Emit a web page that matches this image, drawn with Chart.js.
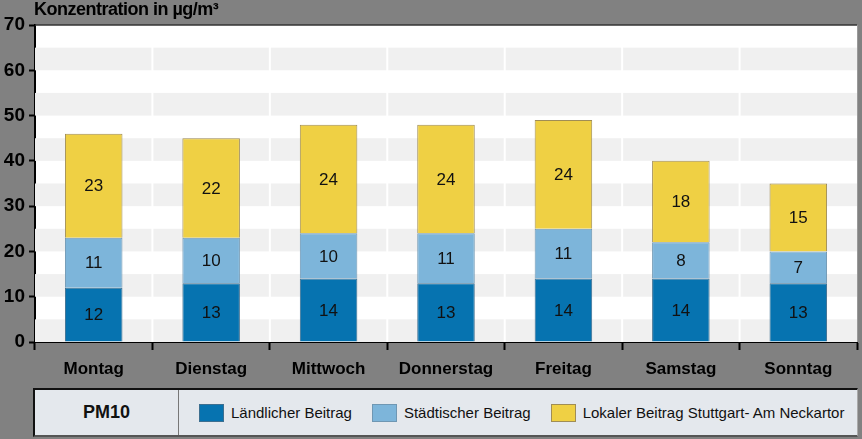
<!DOCTYPE html>
<html>
<head>
   <meta charset="UTF-8">
   <title>PM10 Wochengang</title>
   <script src="https://cdn.jsdelivr.net/npm/chart.js@4.4.1/dist/chart.umd.min.js"></script>
   <style>
      body { margin: 0; background: #818181; font-family: "Liberation Sans", Arial, sans-serif; }
      #wrap { position: relative; width: 862px; height: 439px; overflow: hidden; }
      #yTitle { position: absolute; left: 34px; top: -1px; font-weight: bold; font-size: 18px; letter-spacing: -0.5px; color: #000; line-height: 20px; }
      #chartBox { position: absolute; left: 0; top: 0; width: 862px; height: 385px; }
      #legend { position: absolute; left: 33px; top: 388px; width: 822px; height: 45px; background: #e4e8ed;
         border-top: 2px solid #111; border-left: 2px solid #111; border-bottom: 2px solid #555; border-right: 1px solid #aaa;
         display: flex; align-items: center; font-size: 15px; color: #111; }
      #legend .name { width: 143px; height: 100%; border-right: 1px solid #777; display: flex; align-items: center; justify-content: center; font-weight: bold; font-size: 18px; }
      #legend .item { display: flex; align-items: center; margin-left: 20px; }
      #legend .sw { width: 23px; height: 16px; margin-right: 7px; border: 1px solid #888; }
   </style>
</head>
<body>
   <div id="wrap">
      <div id="chartBox"><canvas id="chart"></canvas></div>
      <div id="yTitle">Konzentration in µg/m³</div>
      <div id="legend"></div>
   </div>

   <script>
      // Wochentage und Beiträge
      const days = ["Montag", "Dienstag", "Mittwoch", "Donnerstag", "Freitag", "Samstag", "Sonntag"];
      const laendlich = [12, 13, 14, 13, 14, 14, 13];
      const staedtisch = [11, 10, 10, 11, 11, 8, 7];
      const lokal = [23, 22, 24, 24, 24, 18, 15];
      const yTicks = [0, 10, 20, 30, 40, 50, 60, 70];

      const seriesNames = ["Ländlicher Beitrag", "Städtischer Beitrag", "Lokaler Beitrag Stuttgart- Am Neckartor"];
      const colors = ["#0673b0", "#7db5da", "#efd044"];
      const borders = ["#3d6f90", "#6f97b3", "#a08d55"];

      // legend in HTML (box with PM10 cell)
      const legend = document.getElementById("legend");
      legend.innerHTML = '<div class="name">PM10</div>' + seriesNames.map((n, i) =>
         '<div class="item"><span class="sw" style="background:' + colors[i] + ';border-color:' + borders[i] + '"></span>' + n + '</div>'
      ).join("");

      // alternating horizontal bands every 5 units + outline of the plot
      const bandsPlugin = {
         id: "bands",
         beforeDatasetsDraw(chart) {
            const { ctx, chartArea: a, scales: { x, y } } = chart;
            ctx.save();
            for (let v = 0; v < 70; v += 10) {
               const top = y.getPixelForValue(v + 5);
               const bottom = y.getPixelForValue(v);
               ctx.fillStyle = "#f0f0f0";
               ctx.fillRect(a.left, top, a.right - a.left, bottom - top);
            }
            // white vertical separators between categories
            ctx.strokeStyle = "#ffffff";
            ctx.lineWidth = 2;
            for (let i = 1; i < days.length; i++) {
               const px = (x.getPixelForValue(i - 1) + x.getPixelForValue(i)) / 2;
               ctx.beginPath();
               ctx.moveTo(px, a.top);
               ctx.lineTo(px, a.bottom);
               ctx.stroke();
            }
            ctx.restore();
         },
         beforeDraw(chart) {
            const { ctx, chartArea: a } = chart;
            ctx.save();
            ctx.fillStyle = "#ffffff";
            ctx.fillRect(a.left, a.top, a.right - a.left, a.bottom - a.top);
            ctx.restore();
         },
         afterDraw(chart) {
            const { ctx, chartArea: a } = chart;
            ctx.save();
            ctx.strokeStyle = "#333";
            ctx.lineWidth = 1.5;
            ctx.beginPath();
            ctx.moveTo(a.left, a.top);
            ctx.lineTo(a.right, a.top);
            ctx.stroke();
            ctx.strokeStyle = "#9a9a9a";
            ctx.lineWidth = 1;
            ctx.beginPath();
            ctx.moveTo(a.right + 0.5, a.top);
            ctx.lineTo(a.right + 0.5, a.bottom);
            ctx.stroke();
            ctx.restore();
         }
      };

      // values in the middle of each segment
      const valueLabels = {
         id: "valueLabels",
         afterDatasetsDraw(chart) {
            const { ctx } = chart;
            ctx.save();
            ctx.font = "17px 'Liberation Sans', Arial, sans-serif";
            ctx.fillStyle = "#111";
            ctx.textAlign = "center";
            ctx.textBaseline = "middle";
            chart.data.datasets.forEach((ds, di) => {
               chart.getDatasetMeta(di).data.forEach((bar, i) => {
                  ctx.fillText(ds.data[i], bar.x, (bar.y + bar.base) / 2 + 1);
               });
            });
            ctx.restore();
         }
      };

      const datasets = [laendlich, staedtisch, lokal].map((d, i) => ({
         label: seriesNames[i],
         data: d,
         backgroundColor: colors[i],
         borderColor: borders[i],
         borderWidth: 1,
         categoryPercentage: 1,
         barPercentage: 0.49
      }));

      new Chart(document.getElementById("chart"), {
         type: "bar",
         data: { labels: days, datasets },
         options: {
            responsive: true,
            maintainAspectRatio: false,
            animation: false,
            layout: { padding: { top: 25, right: 5, left: 0, bottom: 0 } },
            plugins: { legend: { display: false }, tooltip: { enabled: false } },
            scales: {
               x: {
                  stacked: true,
                  offset: true,
                  grid: { display: true, drawOnChartArea: false, offset: true, tickColor: "#000", tickLength: 8, tickWidth: 2 },
                  border: { color: "#000", width: 2 },
                  ticks: { color: "#000", padding: 9, font: { family: "'Liberation Sans', Arial", size: 17, weight: "bold" } },
                  afterFit(scale) { scale.height = 43; }
               },
               y: {
                  stacked: true,
                  min: 0,
                  max: 70,
                  afterBuildTicks(scale) { scale.ticks = yTicks.map(v => ({ value: v })); },
                  grid: { drawOnChartArea: false, tickColor: "#000", tickLength: 6, tickWidth: 2 },
                  border: { color: "#000", width: 2 },
                  ticks: { color: "#000", padding: 4, font: { family: "'Liberation Sans', Arial", size: 19, weight: "bold" } },
                  afterFit(scale) { scale.width = 35; }
               }
            }
         },
         plugins: [bandsPlugin, valueLabels]
      });
   </script>
</body>
</html>
